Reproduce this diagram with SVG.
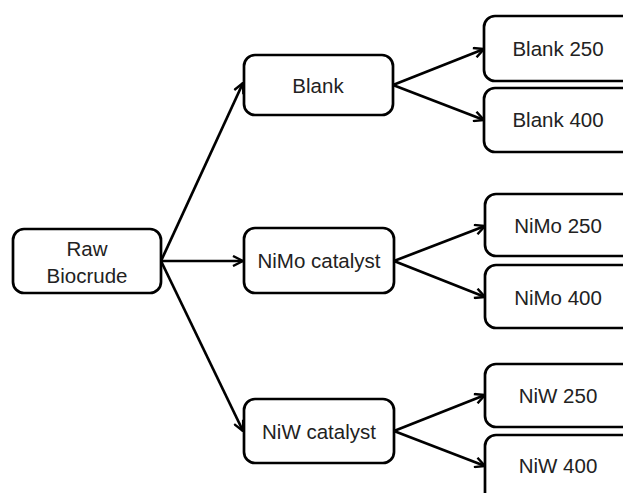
<svg xmlns="http://www.w3.org/2000/svg" width="623" height="493" viewBox="0 0 623 493">
<style>
.box{fill:#fff;stroke:#000;stroke-width:2.7}
.t{font-family:"Liberation Sans",Arial,sans-serif;font-size:20.5px;fill:#222;text-anchor:middle}
.c{stroke:#000;stroke-width:2.7;fill:none;marker-end:url(#ah)}
</style>
<defs>
<marker id="ah" viewBox="0 0 12 12" refX="11" refY="6" markerWidth="12" markerHeight="12" markerUnits="userSpaceOnUse" orient="auto">
<path d="M1,1 L11,6 L1,11" fill="none" stroke="#000" stroke-width="2.4"/>
</marker>
</defs>
<rect width="623" height="493" fill="#fff"/>
<g id="connectors">
<line class="c" x1="161" y1="261" x2="243" y2="83"/>
<line class="c" x1="161" y1="261" x2="243" y2="261"/>
<line class="c" x1="161" y1="261" x2="243" y2="431"/>
<line class="c" x1="393" y1="85" x2="484" y2="49"/>
<line class="c" x1="393" y1="85" x2="484" y2="120"/>
<line class="c" x1="394" y1="261" x2="485" y2="226"/>
<line class="c" x1="394" y1="261" x2="485" y2="297"/>
<line class="c" x1="394" y1="431" x2="485" y2="395"/>
<line class="c" x1="394" y1="431" x2="485" y2="466"/>
</g>
<g id="raw"><rect class="box" x="13" y="229" width="148" height="64" rx="11"/><text class="t" x="87" y="256">Raw</text><text class="t" x="87" y="283">Biocrude</text></g>
<g id="blank"><rect class="box" x="244" y="55" width="149" height="60" rx="11"/><text class="t" x="318" y="93">Blank</text></g>
<g id="nimo"><rect class="box" x="244" y="228" width="150" height="65" rx="11"/><text class="t" x="319" y="268">NiMo catalyst</text></g>
<g id="niw"><rect class="box" x="244" y="399" width="150" height="64" rx="11"/><text class="t" x="319" y="439">NiW catalyst</text></g>
<g id="blank250"><rect class="box" x="484" y="16" width="160" height="65" rx="11"/><text class="t" x="558" y="56">Blank 250</text></g>
<g id="blank400"><rect class="box" x="484" y="88" width="160" height="64" rx="11"/><text class="t" x="558" y="127">Blank 400</text></g>
<g id="nimo250"><rect class="box" x="485" y="194" width="160" height="62" rx="11"/><text class="t" x="558" y="233">NiMo 250</text></g>
<g id="nimo400"><rect class="box" x="485" y="265" width="160" height="63" rx="11"/><text class="t" x="558" y="305">NiMo 400</text></g>
<g id="niw250"><rect class="box" x="485" y="364" width="160" height="63" rx="11"/><text class="t" x="558" y="403">NiW 250</text></g>
<g id="niw400"><rect class="box" x="485" y="435" width="160" height="70" rx="11"/><text class="t" x="558" y="473">NiW 400</text></g>
</svg>
